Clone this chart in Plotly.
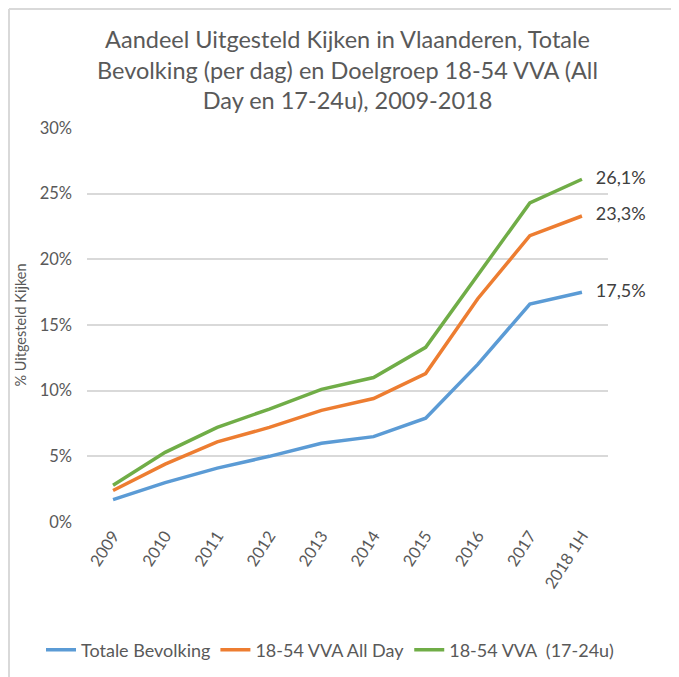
import plotly.graph_objects as go

categories = ["2009", "2010", "2011", "2012", "2013", "2014", "2015", "2016", "2017", "2018 1H"]
totale_bevolking = [1.7, 3.0, 4.1, 5.0, 6.0, 6.5, 7.9, 12.0, 16.6, 17.5]
vva_all_day = [2.4, 4.4, 6.1, 7.2, 8.5, 9.4, 11.3, 17.0, 21.8, 23.3]
vva_17_24 = [2.8, 5.3, 7.2, 8.6, 10.1, 11.0, 13.3, 18.8, 24.3, 26.1]
series_names = ["Totale Bevolking", "18-54 VVA All Day", "18-54 VVA  (17-24u)"]
colors = ["#5B9BD5", "#ED7D31", "#70AD47"]
y_ticks = [0, 5, 10, 15, 20, 25, 30]
y_tick_labels = ["0%", "5%", "10%", "15%", "20%", "25%", "30%"]

FONT = "Lato, 'Open Sans', sans-serif"
W, H = 679, 677
L, T, PW, PH = 79, 120, 521, 394
R, B = W - L - PW, H - T - PH

fig = go.Figure()
for name, vals, col in zip(series_names, [totale_bevolking, vva_all_day, vva_17_24], colors):
    fig.add_trace(go.Scatter(
        x=categories, y=vals, name=name, mode="lines+text",
        line=dict(color=col, width=3.5),
        text=[""] * (len(vals) - 1) + ["   " + f"{vals[-1]:.1f}%".replace(".", ",")],
        textposition="middle right",
        textfont=dict(family=FONT, size=18, color="#404040"),
        cliponaxis=False,
    ))

fig.update_layout(
    width=W, height=H,
    margin=dict(l=L, r=R, t=T, b=B, autoexpand=False),
    paper_bgcolor="white", plot_bgcolor="white",
    font=dict(family=FONT, color="#595959"),
    title=dict(
        text="Aandeel Uitgesteld Kijken in Vlaanderen, Totale<br>Bevolking (per dag) en Doelgroep 18-54 VVA (All<br>Day en 17-24u), 2009-2018",
        x=0.5, xanchor="center", xref="paper", y=(H - 40) / H, yanchor="top",
        font=dict(family=FONT, size=23.5, color="#595959"),
    ),
    xaxis=dict(
        type="category", showgrid=False, zeroline=False, showline=False,
        tickangle=-57, tickfont=dict(family=FONT, size=16.5, color="#595959"),
        ticks="", range=[-0.5, 9.5], automargin=False,
    ),
    yaxis=dict(
        range=[0, 30], tickvals=y_ticks, ticktext=y_tick_labels,
        showgrid=True, gridcolor="#D9D9D9", gridwidth=1.5, zeroline=False,
        tickfont=dict(family=FONT, size=16.5, color="#595959"),
        ticklabelstandoff=14,
        title=dict(text="% Uitgesteld Kijken", font=dict(family=FONT, size=14.5, color="#595959"), standoff=9),
        automargin=False,
    ),
    legend=dict(
        orientation="h",
        x=(33 - L) / PW, xanchor="left", y=-(650 - 8 - (T + PH)) / PH, yanchor="middle",
        font=dict(family=FONT, size=18, color="#595959"),
        itemwidth=30, tracegroupgap=0,
    ),
    showlegend=True,
)

fig.add_shape(type="line", xref="paper", yref="paper",
              x0=(1 - L) / PW, x1=(1 - L) / PW, y0=-1, y1=1 + (T - 1) / PH,
              line=dict(color="#D9D9D9", width=2))
fig.add_shape(type="line", xref="paper", yref="paper",
              x0=(1 - L) / PW, x1=2, y0=1 + (T - 1) / PH, y1=1 + (T - 1) / PH,
              line=dict(color="#D9D9D9", width=2))

fig.write_html("out.html")
